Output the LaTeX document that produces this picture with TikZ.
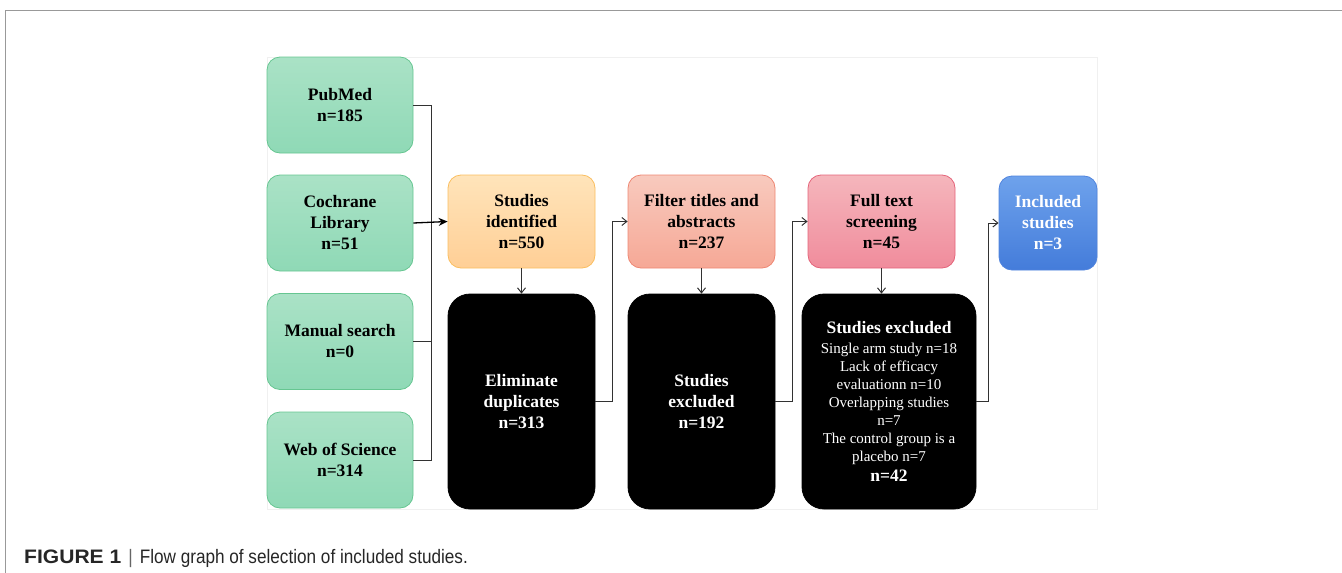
\documentclass[tikz,border=0pt]{standalone}
\usepackage{fontspec}
\setmainfont{Liberation Serif}
\newfontfamily\capfont[FakeStretch=0.88]{Liberation Sans}
\newfontfamily\capbold[FakeStretch=1.08]{Liberation Sans Bold}
\usetikzlibrary{arrows.meta,calc}
\definecolor{gtop}{RGB}{170,226,198}
\definecolor{gbot}{RGB}{143,217,182}
\definecolor{gdraw}{RGB}{102,198,145}
\definecolor{otop}{RGB}{255,228,186}
\definecolor{obot}{RGB}{255,207,150}
\definecolor{odraw}{RGB}{250,190,95}
\definecolor{stop}{RGB}{248,202,190}
\definecolor{sbot}{RGB}{246,168,150}
\definecolor{sdraw}{RGB}{238,135,115}
\definecolor{ptop}{RGB}{245,182,188}
\definecolor{pbot}{RGB}{240,140,156}
\definecolor{pdraw}{RGB}{228,100,122}
\definecolor{btop}{RGB}{110,162,236}
\definecolor{bbot}{RGB}{68,124,218}
\definecolor{bdraw}{RGB}{80,132,222}
\definecolor{lin}{RGB}{50,50,50}
\tikzset{
  basebox/.style={rounded corners=13pt, align=center, line width=0.8pt, inner sep=2pt,
    font=\fontsize{17.5}{21}\selectfont\bfseries},
  greenbox/.style={basebox, draw=gdraw, top color=gtop, bottom color=gbot,
    minimum width=146pt, minimum height=96pt},
  orangebox/.style={basebox, draw=odraw, top color=otop, bottom color=obot,
    minimum width=147pt, minimum height=93pt},
  salmonbox/.style={basebox, draw=sdraw, top color=stop, bottom color=sbot,
    minimum width=147pt, minimum height=93pt},
  pinkbox/.style={basebox, draw=pdraw, top color=ptop, bottom color=pbot,
    minimum width=147pt, minimum height=93pt},
  bluebox/.style={basebox, draw=bdraw, top color=btop, bottom color=bbot, text=white,
    minimum width=98pt, minimum height=94pt},
  blackbox/.style={basebox, rounded corners=22pt, fill=black, draw=black, text=white,
    minimum width=147pt, minimum height=215pt},
  conn/.style={draw=lin, line width=1pt},
  arr/.style={conn, -{Straight Barb[length=5pt,width=8pt]}},
  bigarr/.style={draw=black, line width=1.3pt, -{Stealth[length=9pt,width=8pt]}},
}
\begin{document}
\begin{tikzpicture}[x=1pt,y=-1pt]
\useasboundingbox (0,0) rectangle (1342,573);
% frame
\draw[draw=black!40, line width=1pt] (1342,10) -- (5,10) -- (5,573);
% faint panel
\draw[draw=black!6, line width=0.8pt] (267,57) rectangle (1097,509);

% sources
\node[greenbox] (pub) at (340,105) {PubMed\\n=185};
\node[greenbox] (coch) at (340,223) {Cochrane\\Library\\n=51};
\node[greenbox] (man) at (340,341.5) {Manual search\\n=0};
\node[greenbox] (wos) at (340,460) {Web of Science\\n=314};

% main flow
\node[orangebox] (ident) at (521.5,221.5) {Studies\\identified\\n=550};
\node[blackbox] (elim) at (521.5,401.5) {Eliminate\\duplicates\\n=313};
\node[salmonbox] (filt) at (701.5,221.5) {Filter titles and\\abstracts\\n=237};
\node[blackbox] (exc1) at (701.5,401.5) {Studies\\excluded\\n=192};
\node[pinkbox] (full) at (881.5,221.5) {Full text\\screening\\n=45};
\node[blackbox, minimum width=174pt] (exc2) at (889,401.5) {Studies excluded\\[-1pt]
  {\fontsize{15}{18}\selectfont\mdseries Single arm study n=18}\\[-3pt]
  {\fontsize{15}{18}\selectfont\mdseries Lack of efficacy}\\[-3pt]
  {\fontsize{15}{18}\selectfont\mdseries evaluationn n=10}\\[-3pt]
  {\fontsize{15}{18}\selectfont\mdseries Overlapping studies}\\[-3pt]
  {\fontsize{15}{18}\selectfont\mdseries n=7}\\[-3pt]
  {\fontsize{15}{18}\selectfont\mdseries The control group is a}\\[-3pt]
  {\fontsize{15}{18}\selectfont\mdseries placebo n=7}\\[-1pt]
  n=42};
\node[bluebox] (incl) at (1048,223) {Included\\studies\\n=3};

% bus
\coordinate (busT) at (431,105);
\coordinate (busB) at (431,460);
\draw[conn] (pub.east) -- (busT) -- (busB) -- (wos.east);
\draw[conn] (man.east) -- (man.east -| busT);
\draw[bigarr] (coch.east) -- (ident.west);

% flow connectors
\draw[arr] (ident.south) -- (elim.north);
\draw[arr] (elim.east) -- ++(17,0) |- (filt.west);
\draw[arr] (filt.south) -- (exc1.north);
\draw[arr] (exc1.east) -- ++(17,0) |- (full.west);
\draw[arr] (full.south) -- (full.south |- exc2.north);
\draw[arr] (exc2.east) -- ++(12,0) |- (incl.west);

% caption
\node[anchor=west, inner sep=0pt, text=black!85, font=\capfont\fontsize{19.5}{22}\selectfont] (cap) at (24,558)
  {{\capbold FIGURE 1}\hspace{7pt}{\color{black!60}|}\hspace{7pt}Flow graph of selection of included studies.};
\end{tikzpicture}
\end{document}
